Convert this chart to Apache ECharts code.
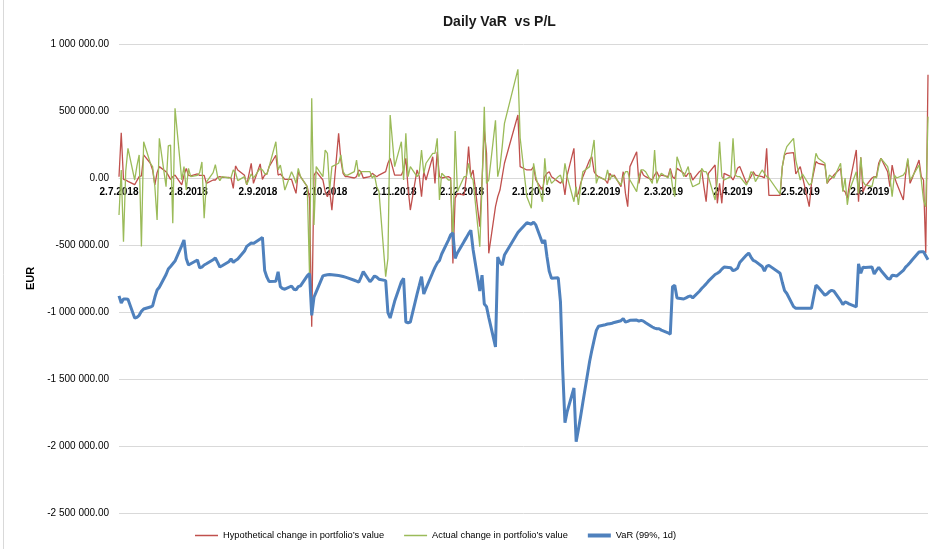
<!DOCTYPE html>
<html><head><meta charset="utf-8">
<script src="https://cdn.jsdelivr.net/npm/echarts@6/dist/echarts.min.js"></script>
<style>html,body{margin:0;padding:0;background:#fff}#c{width:935px;height:549px}</style>
</head><body><div id="c"></div>
<script>
// Trading days (x categories)
const tradingDays = [
"2018-07-02","2018-07-03","2018-07-04","2018-07-05","2018-07-06","2018-07-09","2018-07-10","2018-07-11","2018-07-12","2018-07-13","2018-07-16","2018-07-17","2018-07-18","2018-07-19","2018-07-20","2018-07-23","2018-07-24","2018-07-25","2018-07-26","2018-07-27","2018-07-30","2018-07-31",
"2018-08-01","2018-08-02","2018-08-03","2018-08-06","2018-08-07","2018-08-08","2018-08-09","2018-08-10","2018-08-13","2018-08-14","2018-08-15","2018-08-16","2018-08-17","2018-08-20","2018-08-21","2018-08-22","2018-08-23","2018-08-24","2018-08-27","2018-08-28","2018-08-30","2018-08-31",
"2018-09-03","2018-09-04","2018-09-05","2018-09-06","2018-09-07","2018-09-10","2018-09-11","2018-09-12","2018-09-13","2018-09-14","2018-09-17","2018-09-18","2018-09-19","2018-09-20","2018-09-21","2018-09-24","2018-09-25","2018-09-26","2018-09-27","2018-09-28",
"2018-10-01","2018-10-02","2018-10-03","2018-10-04","2018-10-05","2018-10-08","2018-10-09","2018-10-10","2018-10-11","2018-10-12","2018-10-15","2018-10-16","2018-10-17","2018-10-18","2018-10-19","2018-10-22","2018-10-23","2018-10-24","2018-10-25","2018-10-26","2018-10-29","2018-10-30","2018-10-31",
"2018-11-02","2018-11-05","2018-11-06","2018-11-07","2018-11-08","2018-11-09","2018-11-12","2018-11-13","2018-11-14","2018-11-15","2018-11-16","2018-11-19","2018-11-20","2018-11-21","2018-11-22","2018-11-23","2018-11-26","2018-11-27","2018-11-28","2018-11-29","2018-11-30",
"2018-12-03","2018-12-04","2018-12-05","2018-12-06","2018-12-07","2018-12-10","2018-12-11","2018-12-12","2018-12-13","2018-12-14","2018-12-17","2018-12-18","2018-12-19","2018-12-20","2018-12-21","2018-12-27","2018-12-28","2018-12-31",
"2019-01-02","2019-01-03","2019-01-04","2019-01-07","2019-01-08","2019-01-09","2019-01-10","2019-01-11","2019-01-14","2019-01-15","2019-01-16","2019-01-17","2019-01-18","2019-01-21","2019-01-22","2019-01-23","2019-01-24","2019-01-25","2019-01-28","2019-01-29","2019-01-30","2019-01-31",
"2019-02-01","2019-02-04","2019-02-05","2019-02-06","2019-02-07","2019-02-08","2019-02-11","2019-02-12","2019-02-13","2019-02-14","2019-02-15","2019-02-18","2019-02-19","2019-02-20","2019-02-21","2019-02-22","2019-02-25","2019-02-26","2019-02-27","2019-02-28",
"2019-03-01","2019-03-04","2019-03-05","2019-03-06","2019-03-07","2019-03-08","2019-03-11","2019-03-12","2019-03-13","2019-03-14","2019-03-15","2019-03-18","2019-03-19","2019-03-20","2019-03-21","2019-03-22","2019-03-25","2019-03-26","2019-03-27","2019-03-28","2019-03-29",
"2019-04-01","2019-04-02","2019-04-03","2019-04-04","2019-04-05","2019-04-08","2019-04-09","2019-04-10","2019-04-11","2019-04-12","2019-04-15","2019-04-16","2019-04-17","2019-04-18","2019-04-23","2019-04-24","2019-04-25","2019-04-26","2019-04-29","2019-04-30",
"2019-05-02","2019-05-03","2019-05-06","2019-05-07","2019-05-09","2019-05-10","2019-05-13","2019-05-14","2019-05-15","2019-05-16","2019-05-17","2019-05-20","2019-05-21","2019-05-22","2019-05-23","2019-05-24","2019-05-27","2019-05-28","2019-05-29","2019-05-30","2019-05-31",
"2019-06-03","2019-06-04","2019-06-05","2019-06-06","2019-06-07","2019-06-10","2019-06-11","2019-06-12","2019-06-13","2019-06-14","2019-06-17","2019-06-18","2019-06-19","2019-06-20","2019-06-21","2019-06-24","2019-06-25","2019-06-26","2019-06-27","2019-06-28"
];

// Values in thousands of EUR, one per trading day
const hypotheticalK = [
10,338,-10,-15,-25,-50,-20,10,15,172,110,60,-52,40,85,47,20,-10,10,22,-52,20,
72,20,15,30,20,20,20,-40,-15,-15,5,10,5,5,0,-77,90,60,20,-52,110,-40,
105,-10,22,30,85,170,22,30,10,-10,-10,-65,-115,47,10,-65,-150,-1110,20,47,
-15,-100,-140,-90,-240,333,134,35,10,10,0,10,60,47,0,10,35,22,10,22,47,110,147,
22,22,60,147,-77,-239,60,10,-140,47,-15,159,-40,196,10,0,10,0,-637,-150,-115,
-127,10,234,10,60,-363,-20,358,184,-562,-214,-140,-90,10,110,470,85,60,
60,85,-15,-90,10,35,47,10,-27,-40,-15,-127,22,221,-140,-115,-40,10,134,159,47,22,
10,-15,-40,35,10,22,-65,47,-115,-214,85,196,-40,60,22,10,-15,22,47,10,
22,10,72,10,-5,72,35,10,35,35,-15,47,60,-65,-177,35,97,-189,-40,-189,35,
10,-15,22,72,85,-40,-15,10,47,22,10,0,221,-130,-130,85,172,184,190,30,
85,10,-214,-40,122,110,97,-40,-15,0,22,72,-90,-102,-152,-40,209,-177,154,-102,-65,
0,10,10,110,147,47,-65,97,10,-40,-164,22,134,-40,0,134,10,-15,-560,770
];

const actualK = [
-276,60,-475,50,221,-15,90,172,-512,271,110,85,-65,-313,296,-65,240,246,-338,520,-15,85,
-90,72,10,20,40,120,-301,-30,40,100,10,-20,10,0,5,60,40,-20,10,-50,30,0,
72,60,35,27,85,271,60,97,10,-90,47,10,-40,72,10,-65,-710,595,-350,85,
10,209,184,-90,85,110,172,47,22,22,47,134,10,47,47,47,0,22,-65,-100,-736,-600,470,
85,271,-15,333,10,85,10,35,209,35,110,184,184,296,-164,35,-15,-15,-500,350,-100,
10,10,110,10,-15,-512,-50,532,-40,-15,430,10,85,234,408,811,300,-140,
-226,110,10,-177,147,-52,10,-40,10,22,-40,110,10,-177,-65,-200,-65,47,85,184,284,-40,
10,-15,60,-15,22,10,-52,10,47,47,-15,-102,10,60,60,47,-40,209,-40,5,
35,0,60,-65,-139,159,10,47,85,-15,-65,-40,72,47,47,10,-164,-15,271,10,-15,
10,296,22,10,10,-52,-15,47,35,-27,60,35,10,0,-120,85,184,234,296,134,
-15,30,-52,-40,184,147,110,-40,22,10,0,110,-102,0,-200,-90,47,-115,154,-27,-52,
-65,10,0,85,147,85,10,-139,22,0,22,47,147,-15,10,97,-15,-164,-214,458
];

const varK = [
-880,-933,-903,-903,-905,-1045,-1040,-1025,-995,-978,-963,-955,-890,-836,-815,-720,-679,-660,-640,-620,-505,-463,
-600,-649,-640,-612,-670,-665,-649,-640,-610,-597,-630,-664,-655,-625,-604,-630,-615,-604,-545,-510,-485,-488,
-455,-443,-690,-740,-773,-770,-700,-810,-825,-830,-806,-830,-835,-811,-805,-730,-713,-1025,-890,-850,
-731,-725,-722,-720,-722,-728,-731,-735,-740,-745,-763,-770,-778,-740,-699,-774,-755,-731,-740,-755,-766,-1005,-1045,
-920,-775,-748,-1075,-1080,-1075,-866,-802,-736,-866,-824,-705,-667,-635,-616,-567,-463,-425,-410,-600,-560,
-473,-445,-415,-390,-533,-843,-725,-940,-960,-1040,-1260,-590,-630,-650,-575,-407,-388,-334,
-345,-330,-350,-487,-463,-590,-697,-749,-745,-925,-1433,-1826,-1743,-1567,-1968,-1877,-1778,-1673,-1369,-1286,-1210,-1137,
-1106,-1095,-1090,-1087,-1084,-1078,-1065,-1050,-1075,-1070,-1062,-1060,-1068,-1062,-1068,-1080,-1112,-1120,-1125,-1125,
-1135,-1155,-1165,-811,-800,-895,-903,-895,-885,-880,-895,-845,-825,-808,-790,-770,-720,-711,-700,-680,-665,
-670,-692,-685,-674,-630,-575,-560,-590,-615,-622,-660,-695,-660,-652,-711,-780,-840,-862,-960,-972,
-972,-972,-972,-972,-800,-815,-875,-865,-848,-838,-845,-915,-945,-925,-932,-942,-962,-640,-711,-665,-668,
-664,-716,-690,-666,-690,-750,-755,-725,-728,-732,-690,-665,-649,-630,-610,-552,-550,-550,-580,-610
];

// Axis tick labels
const xLabelDates = ["2018-07-02","2018-08-02","2018-09-02","2018-10-02","2018-11-02","2018-12-02","2019-01-02","2019-02-02","2019-03-02","2019-04-02","2019-05-02","2019-06-02"];
const yMin = -2500000, yMax = 1000000, yStep = 500000;

const seriesNames = ["Hypothetical change in portfolio\u2019s value","Actual change in portfolio\u2019s value","VaR (99%, 1d)"];
const seriesColors = ["#C0504D","#9BBB59","#4F81BD"];

const FONT = '"Liberation Sans",Arial,sans-serif';
const DAY = 86400000;
const GRID = {left:119,right:7,top:44,bottom:36};

function parseDate(s){const p=s.split('-');return Date.UTC(+p[0],+p[1]-1,+p[2]);}
const t0 = parseDate(tradingDays[0]);
function dayIndex(s){return Math.round((parseDate(s)-t0)/DAY);}
function fmtNum(v){const neg=v<0;const s=Math.abs(v).toFixed(2);const parts=s.split('.');const ii=parts[0].replace(/\B(?=(\d{3})+(?!\d))/g,' ');return (neg?'-':'')+ii+'.'+parts[1];}
function fmtDay(i){const d=new Date(t0+Math.round(i)*DAY);return d.getUTCDate()+'.'+(d.getUTCMonth()+1)+'.'+d.getUTCFullYear();}
function toSeries(arr){return tradingDays.map((d,i)=>[dayIndex(d),arr[i]*1000]);}

// place x axis line at value 0 of y axis
const plotH = 549 - GRID.top - GRID.bottom;
const zeroOffset = -plotH * (0 - yMin) / (yMax - yMin);

const chart = echarts.init(document.getElementById('c'), null, {renderer:'canvas'});
chart.setOption({
  animation:false,
  backgroundColor:'#fff',
  textStyle:{fontFamily:FONT},
  title:{text:'Daily VaR  vs P/L',left:438,top:10,textStyle:{fontSize:14,fontWeight:'bold',color:'#1a1a1a',fontFamily:FONT}},
  grid:Object.assign({containLabel:false},GRID),
  legend:{left:190,top:526,itemWidth:23,itemHeight:10,itemGap:20,
    textStyle:{fontSize:9.3,color:'#000',fontFamily:FONT},
    data:[
      {name:seriesNames[0],icon:'path://M0,0H46V3H0Z'},
      {name:seriesNames[1],icon:'path://M0,0H46V3H0Z'},
      {name:seriesNames[2],icon:'path://M0,0H46V8H0Z'}
    ]},
  graphic:[{type:'line',shape:{x1:3.5,y1:0,x2:3.5,y2:549},style:{stroke:'#d9d9d9',lineWidth:1}}],
  xAxis:{type:'value',min:0,max:dayIndex(tradingDays[tradingDays.length-1]),
    offset:zeroOffset,
    axisLine:{onZero:false,lineStyle:{color:'#d9d9d9',width:1}},
    axisTick:{show:false},splitLine:{show:false},
    axisLabel:{customValues:xLabelDates.map(dayIndex),formatter:fmtDay,fontSize:10,fontWeight:'bold',color:'#000',margin:9,hideOverlap:false,fontFamily:FONT}},
  yAxis:{type:'value',min:yMin,max:yMax,interval:yStep,
    name:'EUR',nameLocation:'middle',nameRotate:90,nameGap:81,
    nameTextStyle:{fontSize:11,fontWeight:'bold',color:'#000',fontFamily:FONT},
    axisLine:{show:false,onZero:false},axisTick:{show:false},
    splitLine:{lineStyle:{color:'#d9d9d9',width:1}},
    axisLabel:{formatter:fmtNum,fontSize:10,color:'#000',margin:10,fontFamily:FONT}},
  series:[
    {name:seriesNames[0],type:'line',symbol:'none',data:toSeries(hypotheticalK),lineStyle:{color:seriesColors[0],width:1.3},itemStyle:{color:seriesColors[0]},z:2},
    {name:seriesNames[1],type:'line',symbol:'none',data:toSeries(actualK),lineStyle:{color:seriesColors[1],width:1.3},itemStyle:{color:seriesColors[1]},z:3},
    {name:seriesNames[2],type:'line',symbol:'none',data:toSeries(varK),lineStyle:{color:seriesColors[2],width:3},itemStyle:{color:seriesColors[2]},z:4}
  ]
});
</script>
</body></html>
